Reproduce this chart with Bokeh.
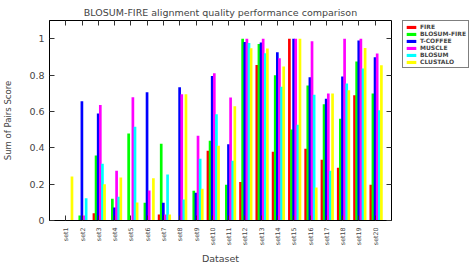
import math
from bokeh.plotting import figure
from bokeh.layouts import row
from bokeh.models import (ColumnDataSource, Range1d, FixedTicker, LinearAxis,
                          Legend, LegendItem)
from bokeh.transform import dodge
from bokeh.embed import file_html
from bokeh.resources import INLINE

sets = ["set1", "set2", "set3", "set4", "set5", "set6", "set7", "set8", "set9", "set10",
        "set11", "set12", "set13", "set14", "set15", "set16", "set17", "set18", "set19", "set20"]
series = ["FIRE", "BLOSUM-FIRE", "T-COFFEE", "MUSCLE", "BLOSUM", "CLUSTALO"]

fire = [0, 0, 0.04, 0, 0, 0, 0.033, 0, 0, 0.384, 0, 0.212, 0.855, 0.378, 1.0, 0.395, 0.334, 0.29, 0.689, 0.197]
blosum_fire = [0, 0.028, 0.358, 0.119, 0.479, 0.097, 0.422, 0, 0.163, 0.439, 0.197, 1.0, 0.971, 0.799, 0.501, 0.742, 0.639, 0.56, 0.874, 0.698]
t_coffee = [0, 0.656, 0.588, 0.072, 0, 0.705, 0.097, 0.733, 0.152, 0.795, 0.419, 0.982, 0.979, 0.926, 1.0, 0.788, 0.67, 0.792, 0.99, 0.898]
muscle = [0, 0.028, 0.635, 0.274, 0.678, 0.165, 0.033, 0.694, 0.466, 0.81, 0.676, 1.0, 1.0, 0.893, 1.0, 0.986, 0.698, 1.0, 1.0, 0.918]
blosum = [0, 0.123, 0.312, 0.13, 0.516, 0, 0.253, 0.116, 0.34, 0.584, 0.329, 0.976, 0.92, 0.735, 0.527, 0.692, 0.274, 0.753, 0.836, 0.606]
clustalo = [0.242, 0, 0.2, 0.237, 0.099, 0.232, 0.033, 0.694, 0.174, 0.411, 0.628, 0.948, 0.946, 0.847, 1.0, 0.182, 0.698, 0.716, 0.949, 0.854]

colors = ["#ff0000", "#00ff00", "#0000ff", "#ff00ff", "#00ffff", "#ffff00"]
y_ticks = [0, 0.2, 0.4, 0.6, 0.8, 1]
y_tick_labels = ["0", "0.2", "0.4", "0.6", "0.8", "1"]

positions = list(range(1, len(sets) + 1))
values = [fire, blosum_fire, t_coffee, muscle, blosum, clustalo]
data = {"x": positions}
for name, vals in zip(series, values):
    data[name] = vals
src = ColumnDataSource(data)

p = figure(width=392, height=267, output_backend="svg", toolbar_location=None,
           x_range=Range1d(0, len(sets) + 1), y_range=Range1d(0, 1.1),
           min_border_left=48, min_border_right=1, min_border_top=20,
           min_border_bottom=47)
p.background_fill_color = "white"
p.border_fill_color = "white"
p.outline_line_color = "black"
p.grid.visible = False

offsets = [-0.27, -0.14, -0.01, 0.12, 0.25, 0.38]
for name, col, off in zip(series, colors, offsets):
    p.vbar(x=dodge("x", off, range=p.x_range), top=name, width=0.165,
           source=src, fill_color=col, line_color=None)

# title
p.title.text = "BLOSUM-FIRE alignment quality performance comparison"
p.title.align = "center"
p.title.text_font = "DejaVu Sans"
p.title.text_font_size = "9.5px"
p.title.text_font_style = "normal"
p.title.text_line_height = 1.0
p.title.standoff = 6

# x axis
xa = p.xaxis[0]
xa.ticker = FixedTicker(ticks=positions)
xa.major_label_overrides = {i: s for i, s in zip(positions, sets)}
xa.major_label_orientation = math.pi / 2
xa.major_label_text_font = "DejaVu Sans"
xa.major_label_text_font_size = "6.3px"
xa.major_label_standoff = 7
xa.major_tick_in = 5
xa.major_tick_out = 0
xa.minor_tick_line_color = None
xa.axis_label = "Dataset"
xa.axis_label_text_font = "DejaVu Sans"
xa.axis_label_text_font_size = "9.5px"
xa.axis_label_text_font_style = "normal"
xa.axis_label_standoff = 5
xa.major_tick_line_color = "#333333"

# y axis
ya = p.yaxis[0]
ya.ticker = FixedTicker(ticks=y_ticks)
ya.major_label_overrides = {t: l for t, l in zip(y_ticks, y_tick_labels)}
ya.major_label_text_font = "DejaVu Sans"
ya.major_label_text_font_size = "9.5px"
ya.major_label_standoff = 5
ya.major_tick_in = 5
ya.major_tick_out = 0
ya.minor_tick_line_color = None
ya.major_tick_line_color = "#333333"
ya.axis_label = "Sum of Pairs Score"
ya.axis_label_text_font = "DejaVu Sans"
ya.axis_label_text_font_size = "8.5px"
ya.axis_label_text_font_style = "normal"
ya.axis_label_standoff = 13

# mirror axes (ticks only)
top = LinearAxis(ticker=FixedTicker(ticks=positions), major_label_text_font_size="0px",
                 major_label_standoff=0, major_tick_in=5, major_tick_out=0,
                 minor_tick_line_color=None, axis_line_color=None,
                 major_tick_line_color="#333333")
p.add_layout(top, "above")
right = LinearAxis(ticker=FixedTicker(ticks=y_ticks), major_label_text_font_size="0px",
                   major_label_standoff=0, major_tick_in=5, major_tick_out=0,
                   minor_tick_line_color=None, axis_line_color=None,
                   major_tick_line_color="#333333")
p.add_layout(right, "right")

# legend panel (separate figure to the right of the plot; its ranges hide the bars)
lf = figure(width=81, height=267, output_backend="svg", toolbar_location=None,
            title=None, x_axis_location=None, y_axis_location=None,
            x_range=Range1d(-3, -2), y_range=Range1d(0, 1.1), min_border=0,
            min_border_left=10)
lf.grid.visible = False
lf.outline_line_color = None
lf.background_fill_color = "white"
lf.border_fill_color = "white"
items = []
for name, col in zip(series, colors):
    proxy = lf.vbar(x="x", top=name, width=0.165, source=src,
                    fill_color=col, line_color=None)
    items.append(LegendItem(label=name, renderers=[proxy]))
legend = Legend(items=items, location="top_left",
                label_text_font="DejaVu Sans", label_text_font_size="6px",
                label_text_font_style="bold", label_height=5, label_standoff=3,
                glyph_height=4, glyph_width=12, spacing=0, padding=2, margin=0,
                border_line_color="black", border_line_width=1,
                background_fill_color="white", background_fill_alpha=1)
lf.add_layout(legend)

layout = row(p, lf, spacing=0)
open("out.html", "w").write(file_html(layout, INLINE))
